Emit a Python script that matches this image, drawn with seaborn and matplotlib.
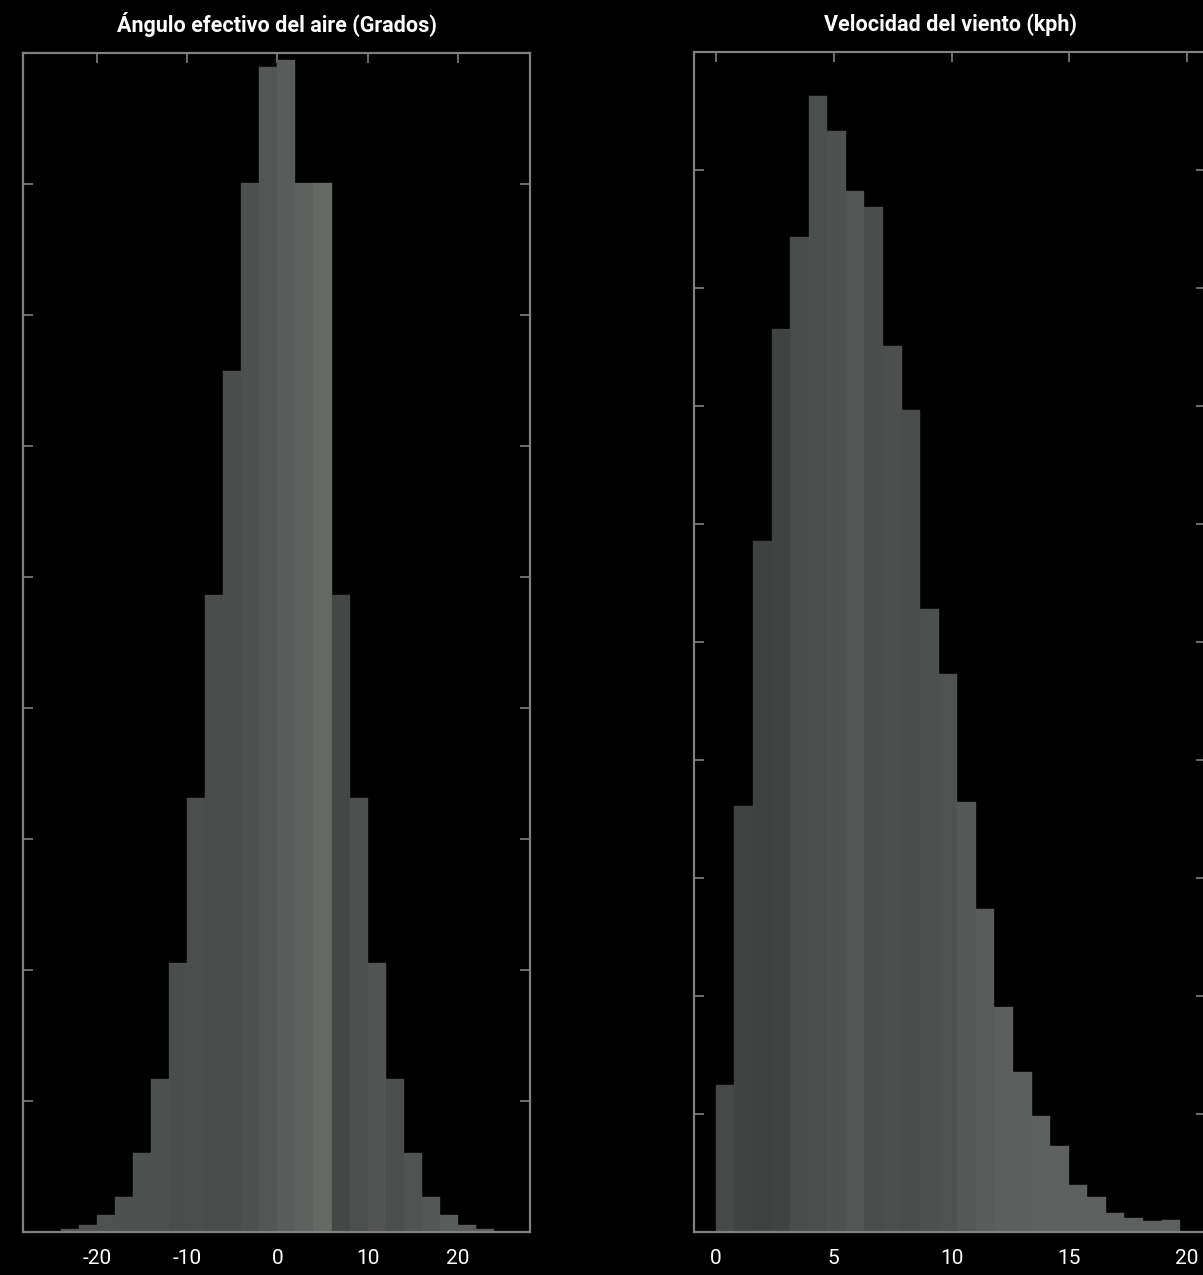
import numpy as np
import pandas as pd
import matplotlib
matplotlib.use("Agg")
import matplotlib.pyplot as plt
import seaborn as sns

# Data (bar heights, arbitrary count units)
angle_edges = list(range(-24, 25, 2))
angle_counts = [2, 5, 13, 27, 60, 117, 205, 331, 486, 657, 801, 889,
                895, 801, 801, 486, 331, 205, 117, 60, 27, 13, 5, 2]
angle_colors = ["#505251", "#505251", "#505251", "#4f5150", "#4f5150", "#4f5150",
                "#4b4d4c", "#4c4e4d", "#4a4c4b", "#4b4d4c", "#4e504f", "#545655",
                "#5a5c5b", "#5e605f", "#666866", "#454746", "#4d4f4e", "#525453",
                "#4c4e4d", "#515352", "#555756", "#5a5c5b", "#5a5c5b", "#5a5c5b"]

wind_edges = list(np.linspace(0, 19.7, 26))
wind_counts = [125, 361, 586, 765, 843, 963, 933, 882, 869, 751, 697, 528, 473,
               364, 274, 191, 136, 98, 73, 40, 30, 16, 12, 9, 10]
wind_colors = ["#474948", "#414342", "#3f4140", "#414342", "#4a4c4b", "#4c4e4d",
               "#4f5150", "#535554", "#4a4c4b", "#4c4e4d", "#4a4c4b", "#4e504f",
               "#505251", "#565857", "#5a5c5b", "#5c5e5d", "#5d5f5e", "#5e605f",
               "#5e605f", "#5e605f", "#5e605f", "#5e605f", "#5e605f", "#5e605f",
               "#5e605f"]

titles = ["Ángulo efectivo del aire (Grados)", "Velocidad del viento (kph)"]
angle_ticks = [-20, -10, 0, 10, 20]
wind_ticks = [0, 5, 10, 15, 20]

sns.set_style("dark")
plt.rcParams["font.family"] = ["Roboto", "DejaVu Sans"]
plt.rcParams["axes.unicode_minus"] = False

W, H = 1203, 1275
fig = plt.figure(figsize=(W / 100, H / 100), dpi=100, facecolor="black")
ax1 = fig.add_axes([23 / W, 43 / H, 507 / W, 1179 / H])
ax2 = fig.add_axes([694 / W, 43 / H, 512 / W, 1180 / H])

panels = [
    (ax1, angle_edges, angle_counts, angle_colors, angle_ticks, (-28.2, 28.0), 900, 100),
    (ax2, wind_edges, wind_counts, wind_colors, wind_ticks, (-0.93, 20.8), 1000, 100),
]

for i, (ax, edges, counts, colors, ticks, xlim, ytop, ystep) in enumerate(panels):
    centers = [(a + b) / 2 for a, b in zip(edges[:-1], edges[1:])]
    df = pd.DataFrame({"x": centers, "w": counts})
    sns.histplot(data=df, x="x", weights="w", bins=edges, ax=ax,
                 linewidth=0, alpha=1, color="#555756")
    for patch, c in zip(ax.patches, colors):
        patch.set_facecolor(c)
        patch.set_edgecolor(c)
        patch.set_linewidth(0.3)

    ax.set_facecolor("black")
    ax.grid(False)
    ax.set_xlim(*xlim)
    ax.set_ylim(0, ytop)
    ax.set_xticks(ticks)
    ax.set_xticklabels([str(t) for t in ticks])
    ax.set_yticks(np.arange(0, ytop + 1, ystep))
    ax.set_yticklabels([])
    ax.set_xlabel("")
    ax.set_ylabel("")
    ax.tick_params(direction="in", length=7, width=1.2, color="#808080",
                   top=True, right=True, bottom=False, left=True,
                   labelcolor="white", labelsize=15, pad=12)
    for s in ax.spines.values():
        s.set_color("#808080")
        s.set_linewidth(1.6)
        s.set_visible(True)
    ax.set_title(titles[i], color="white", fontsize=15.5, fontweight="bold", pad=15)

fig.savefig("out.png", dpi=100, facecolor="black")
